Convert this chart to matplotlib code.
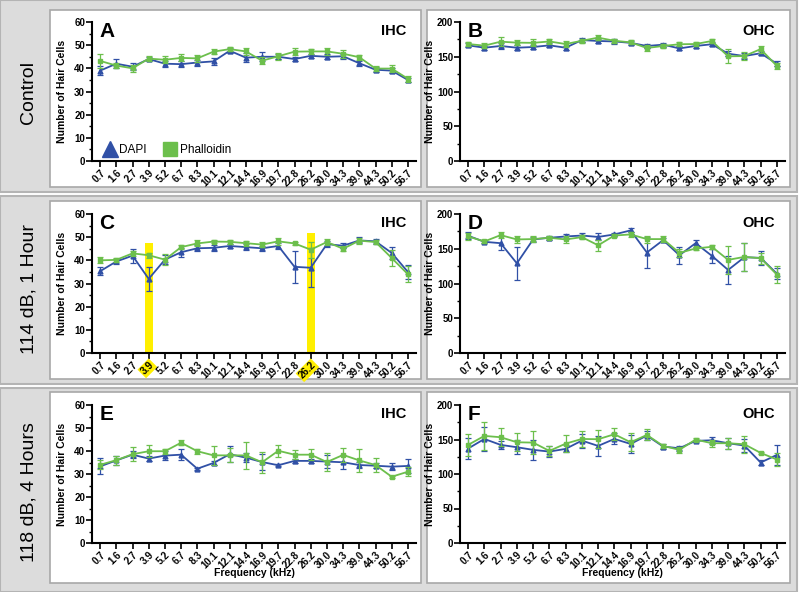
import numpy as np
import matplotlib.pyplot as plt
from matplotlib.patches import Rectangle
from matplotlib.lines import Line2D
from matplotlib.ticker import MultipleLocator

plt.rcParams['font.family'] = ['Liberation Sans', 'DejaVu Sans']

# frequency bins (kHz)
freqs = ['0.7', '1.6', '2.7', '3.9', '5.2', '6.7', '8.3', '10.1', '12.1', '14.4',
         '16.9', '19.7', '22.8', '26.2', '30.0', '34.3', '39.0', '44.3', '50.2', '56.7']

# A - Control, IHC
a_dapi = [39, 42, 40.7, 44, 42, 41.8, 42.5, 43, 47.6, 44.6, 45, 45, 44, 45.4, 45, 45.2, 42.2, 39.4, 39, 35]
a_dapi_err = [2, 2, 1.5, 1, 1.3, 1.3, 1.3, 1.5, 1, 2, 2, 1, 1, 1, 1, 1, 1, 1, 1, 1]
a_phal = [43.2, 41.2, 40, 44.2, 43.7, 44.5, 44.3, 47.2, 48.3, 47.3, 43.3, 45.2, 47.2, 47.3, 47.3, 46.3, 44.8, 39.9, 39.9, 35.5]
a_phal_err = [3, 1, 1.5, 1, 1.5, 1.5, 1.5, 1.2, 1, 1.5, 1.5, 1.5, 1.5, 1.2, 1.5, 1.8, 1, 1, 1.5, 1.3]

# B - Control, OHC
b_dapi = [166.4, 163, 165.5, 163, 164, 166.4, 163, 174, 172.7, 172, 170, 165.5, 167.4, 162, 165.5, 168, 154.4, 151, 155, 140]
b_dapi_err = [3, 3, 4, 4, 3, 3, 3, 3, 3, 3, 3, 3, 3, 3, 3, 3, 4, 4, 3, 4]
b_phal = [168.3, 166, 171.7, 170.3, 170, 172, 168.3, 173, 177.5, 173, 170.7, 162.6, 165.5, 168, 168.3, 172.7, 150.6, 151, 161, 136.7]
b_phal_err = [3, 4, 6, 4, 5, 3, 4, 3, 4, 3, 3, 4, 3, 3, 3, 3, 10, 6, 5, 5]

# C - 114 dB 1 h, IHC
c_dapi = [35.3, 39.5, 42, 32, 40.3, 43.5, 45.2, 45.4, 46.2, 45.7, 45.2, 46.2, 37.2, 36.8, 47, 46.3, 48.6, 48.2, 43.2, 35]
c_dapi_err = [1.7, 1, 3, 5.2, 2, 2, 1.3, 1.2, 1, 1.2, 1.2, 1.2, 7, 8.5, 1.2, 1, 1.3, 1, 2.5, 3]
c_phal = [40, 40.2, 43, 42.2, 40.3, 45.7, 47.3, 48.1, 48, 47.4, 46.8, 48.2, 47.3, 44.6, 47.9, 45, 48.5, 47.9, 41, 34]
c_phal_err = [1.3, 1, 1, 1, 2.3, 1, 1.3, 0.8, 0.8, 1, 1, 1.5, 0.8, 3.5, 1.3, 1, 1.3, 1, 3.5, 3.5]
c_highlight = [3, 13]
c_highlight_top = [47.5, 52]

# D - 114 dB 1 h, OHC
d_dapi = [168.7, 160, 158, 129, 163.4, 165.8, 167.7, 169, 167, 170.6, 176.4, 144.6, 162.4, 140.7, 158, 139.8, 119.5, 137.8, 136.9, 114.2]
d_dapi_err = [5, 2, 10, 24, 4, 3, 3, 3, 5, 2, 3, 22, 3, 12, 5, 10, 20, 20, 10, 8]
d_phal = [167.7, 160.5, 169.6, 163.4, 163.9, 165.8, 163.4, 166.7, 155, 169, 170.6, 163.9, 163.9, 144, 150.4, 152.8, 134, 138.3, 136.4, 112.8]
d_phal_err = [5, 2, 4, 5, 4, 2, 5, 3, 8, 2, 4, 5, 4, 6, 2, 3, 20, 20, 8, 12]

# E - 118 dB 4 h, IHC
e_dapi = [33.3, 35.9, 38.4, 36.7, 38, 38.4, 32.3, 34.8, 38.6, 37.1, 35.2, 33.8, 35.7, 35.7, 35.4, 35.1, 33.9, 33.6, 33.2, 33.5]
e_dapi_err = [3.5, 2, 1.5, 1, 2, 2.5, 0.5, 1, 3.5, 2, 3.5, 0.5, 0.8, 0.8, 3, 3, 1.5, 1, 1.5, 3]
e_phal = [34, 36, 38.6, 39.9, 39.9, 43.6, 39.9, 38.1, 38.1, 38.1, 35.1, 40.1, 38.4, 38.4, 35.2, 38.3, 35.9, 33.9, 28.8, 31]
e_phal_err = [2, 2, 3, 2.5, 1, 1, 1, 4, 3, 6, 4.5, 2.5, 2, 2.5, 4, 3, 5, 3, 0.5, 2]

# F - 118 dB 4 h, OHC
f_dapi = [136.9, 150.8, 142.2, 138.8, 135, 132.5, 136.4, 148.4, 140.7, 150.8, 143.6, 155.7, 139.8, 137.3, 148, 148.9, 144.6, 141.2, 116.6, 127.7]
f_dapi_err = [15, 17, 6, 10, 14, 8, 5, 10, 15, 8, 13, 6, 3, 4, 2, 5, 8, 10, 3, 15]
f_phal = [142.2, 155.2, 153.3, 146, 145.5, 133.5, 144, 150.8, 150.4, 157.6, 146, 156.6, 140.7, 135, 149.9, 144.6, 144.6, 143.1, 130.6, 121]
f_phal_err = [16, 20, 13, 13, 17, 7, 12, 11, 13, 9, 13, 8, 3, 4, 2, 5, 8, 12, 1, 10]

blue = '#3050a6'
green = '#6cbf4c'

W, H = 800, 592


def px(x0, y0, x1, y1):
    # pixel box -> figure fraction [left, bottom, width, height]
    return [x0 / W, 1 - y1 / H, (x1 - x0) / W, (y1 - y0) / H]


fig = plt.figure(figsize=(8, 5.92), dpi=100)

# grey row bands and white panel frames
for y0, y1 in [(0, 192), (196, 384), (388, 592)]:
    b = px(0, y0, 797, y1)
    fig.patches.append(Rectangle((b[0], b[1]), b[2], b[3], transform=fig.transFigure,
                                 facecolor='#dcdcdc', edgecolor='#b4b4b4', lw=1.5, zorder=-3))
for y0, y1 in [(10, 187), (201, 379), (392, 583)]:
    for x0, x1 in [(50, 421), (427, 790)]:
        b = px(x0, y0, x1, y1)
        fig.patches.append(Rectangle((b[0], b[1]), b[2], b[3], transform=fig.transFigure,
                                     facecolor='white', edgecolor='#a8a8a8', lw=1.2, zorder=-2))

row_labels = ['Control', '114 dB, 1 Hour', '118 dB, 4 Hours']
for lab, yc in zip(row_labels, [92, 289, 492]):
    fig.text(29 / W, 1 - yc / H, lab, rotation=90, fontsize=14, ha='center', va='center')

panels = [
    ('A', 'IHC', a_dapi, a_dapi_err, a_phal, a_phal_err, px(92, 22, 416, 161)),
    ('B', 'OHC', b_dapi, b_dapi_err, b_phal, b_phal_err, px(460, 22, 785, 161)),
    ('C', 'IHC', c_dapi, c_dapi_err, c_phal, c_phal_err, px(92, 214, 416, 353)),
    ('D', 'OHC', d_dapi, d_dapi_err, d_phal, d_phal_err, px(460, 214, 785, 353)),
    ('E', 'IHC', e_dapi, e_dapi_err, e_phal, e_phal_err, px(92, 405, 416, 543)),
    ('F', 'OHC', f_dapi, f_dapi_err, f_phal, f_phal_err, px(460, 405, 785, 543)),
]

X = np.arange(len(freqs))
for letter, cell, dapi, dapi_err, phal, phal_err, pos in panels:
    ax = fig.add_axes(pos)
    ax.patch.set_alpha(0)
    if letter == 'C':
        ax.bar([X[i] for i in c_highlight], c_highlight_top, width=0.5, color='#ffef00', zorder=0)
    ax.errorbar(X, dapi, yerr=dapi_err, color=blue, marker='^', ms=3.5, lw=1.3,
                elinewidth=0.9, capsize=2, capthick=0.9, zorder=3)
    ax.errorbar(X, phal, yerr=phal_err, color=green, marker='s', ms=3.2, lw=1.3,
                elinewidth=0.9, capsize=2, capthick=0.9, zorder=4)
    ax.set_xlim(-0.5, 19.5)
    if cell == 'IHC':
        ax.set_ylim(0, 60)
        ax.yaxis.set_major_locator(MultipleLocator(10))
        ax.yaxis.set_minor_locator(MultipleLocator(5))
    else:
        ax.set_ylim(0, 200)
        ax.yaxis.set_major_locator(MultipleLocator(50))
        ax.yaxis.set_minor_locator(MultipleLocator(25))
    ax.spines['top'].set_visible(False)
    ax.spines['right'].set_visible(False)
    ax.spines['left'].set_linewidth(1.5)
    ax.spines['bottom'].set_linewidth(1.5)
    ax.tick_params(axis='both', which='major', length=4, width=1.2, labelsize=7, pad=1)
    ax.tick_params(axis='y', which='minor', length=2.5, width=1)
    ax.set_xticks(X)
    ax.set_xticklabels(freqs, rotation=45, ha='right', rotation_mode='anchor', fontweight='bold')
    for t in ax.get_yticklabels():
        t.set_fontweight('bold')
    if letter == 'C':
        labs = ax.get_xticklabels()
        for i in c_highlight:
            labs[i].set_bbox(dict(facecolor='#ffef00', edgecolor='none', pad=0.8))
    ax.set_ylabel('Number of Hair Cells', fontsize=7.5, fontweight='bold')
    ax.yaxis.set_label_coords(-0.078, 0.5)
    if letter in ('E', 'F'):
        ax.set_xlabel('Frequency (kHz)', fontsize=7.5, fontweight='bold')
        ax.xaxis.set_label_coords(0.5, -0.18)
    ax.text(0.022, 1.0, letter, transform=ax.transAxes, fontsize=15, fontweight='bold', va='top')
    ax.text(0.97, 0.985, cell, transform=ax.transAxes, fontsize=10.5, fontweight='bold',
            va='top', ha='right')
    if letter == 'A':
        handles = [Line2D([], [], color=blue, marker='^', ms=11, ls='none'),
                   Line2D([], [], color=green, marker='s', ms=10, ls='none')]
        ax.legend(handles, ['DAPI', 'Phalloidin'], loc='lower left', ncol=2, frameon=False,
                  fontsize=8.5, handletextpad=0.2, columnspacing=1.4, handlelength=1.2,
                  bbox_to_anchor=(0.0, -0.04))

plt.savefig('out.png', dpi=100)
